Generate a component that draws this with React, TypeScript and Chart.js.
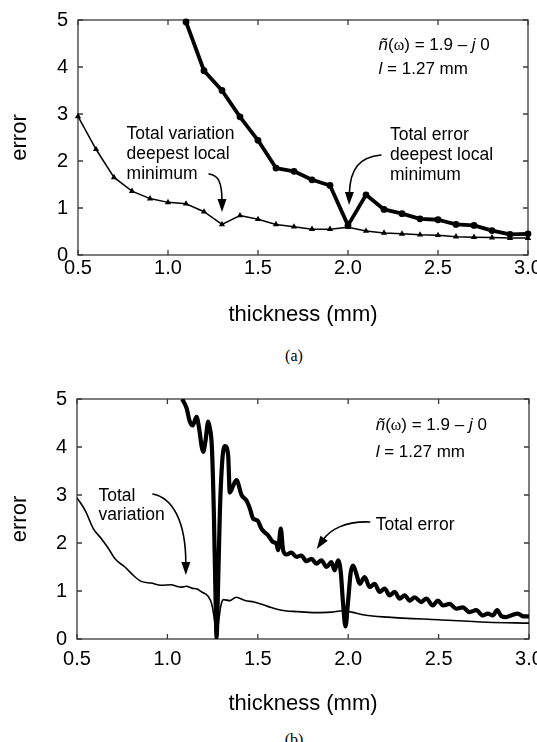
import React, { useEffect, useRef } from "react";
import { Chart, registerables } from "chart.js";

Chart.register(...registerables);

const SANS = "'Liberation Sans', Arial, Helvetica, sans-serif";
const SERIF = "'Liberation Serif', 'Times New Roman', serif";

// ---------- tick values ----------
const xTickValues = [0.5, 1.0, 1.5, 2.0, 2.5, 3.0];
const yTickValues = [0, 1, 2, 3, 4, 5];

// ---------- panel (a) ----------
const thicknessA = [0.5, 0.6, 0.7, 0.8, 0.9, 1.0, 1.1, 1.2, 1.3, 1.4, 1.5, 1.6, 1.7, 1.8, 1.9, 2.0, 2.1, 2.2, 2.3, 2.4, 2.5, 2.6, 2.7, 2.8, 2.9, 3.0];
const totalVariationA = [2.95, 2.25, 1.65, 1.36, 1.2, 1.12, 1.09, 0.92, 0.65, 0.84, 0.76, 0.65, 0.6, 0.55, 0.55, 0.59, 0.51, 0.47, 0.45, 0.43, 0.42, 0.39, 0.38, 0.37, 0.36, 0.36];
const thicknessErrA = [1.1, 1.2, 1.3, 1.4, 1.5, 1.6, 1.7, 1.8, 1.9, 2.0, 2.1, 2.2, 2.3, 2.4, 2.5, 2.6, 2.7, 2.8, 2.9, 3.0];
const totalErrorA = [4.96, 3.92, 3.5, 2.94, 2.44, 1.85, 1.78, 1.6, 1.48, 0.63, 1.28, 0.97, 0.88, 0.77, 0.75, 0.65, 0.63, 0.52, 0.44, 0.45];

// ---------- panel (b) ----------
const thicknessVarB = [0.5, 0.545, 0.59, 0.635, 0.675, 0.71, 0.765, 0.81, 0.855, 0.91, 0.965, 1.02, 1.05, 1.075, 1.105, 1.135, 1.165, 1.19, 1.225, 1.245, 1.262, 1.272, 1.283, 1.295, 1.31, 1.345, 1.38, 1.43, 1.48, 1.555, 1.63, 1.72, 1.815, 1.905, 1.97, 2.02, 2.09, 2.22, 2.5, 2.77, 3.0];
const totalVariationB = [2.94, 2.68, 2.3, 2.09, 1.88, 1.67, 1.5, 1.33, 1.2, 1.165, 1.12, 1.13, 1.1, 1.08, 1.1, 1.06, 1.04, 0.98, 0.89, 0.73, 0.35, 0.0, 0.35, 0.68, 0.82, 0.8, 0.87, 0.8, 0.77, 0.68, 0.6, 0.57, 0.55, 0.56, 0.59, 0.56, 0.5, 0.455, 0.4, 0.35, 0.33];
const thicknessErrB = [1.082, 1.106, 1.124, 1.14, 1.161, 1.175, 1.19, 1.198, 1.21, 1.226, 1.235, 1.246, 1.257, 1.266, 1.272, 1.279, 1.29, 1.303, 1.318, 1.336, 1.345, 1.364, 1.382, 1.41, 1.438, 1.456, 1.474, 1.498, 1.52, 1.539, 1.557, 1.585, 1.603, 1.612, 1.627, 1.64, 1.659, 1.686, 1.714, 1.741, 1.769, 1.797, 1.824, 1.852, 1.88, 1.907, 1.925, 1.944, 1.959, 1.971, 1.985, 1.999, 2.014, 2.027, 2.045, 2.063, 2.091, 2.119, 2.146, 2.174, 2.202, 2.229, 2.257, 2.285, 2.312, 2.34, 2.367, 2.404, 2.432, 2.468, 2.496, 2.524, 2.561, 2.598, 2.634, 2.671, 2.708, 2.745, 2.772, 2.8, 2.824, 2.846, 2.874, 2.9, 2.938, 2.97, 3.0];
const totalErrorB = [5.0, 4.81, 4.53, 4.45, 4.63, 4.4, 4.0, 3.9, 4.11, 4.53, 4.39, 4.0, 2.62, 0.9, 0.03, 0.9, 2.62, 3.69, 4.02, 3.83, 3.05, 3.2, 3.31, 3.0, 2.88, 2.72, 2.51, 2.47, 2.3, 2.22, 2.16, 2.02, 1.99, 1.85, 2.3, 1.85, 1.76, 1.8, 1.71, 1.74, 1.62, 1.67, 1.57, 1.64, 1.5, 1.6, 1.43, 1.64, 1.39, 0.77, 0.26, 0.77, 1.39, 1.53, 1.36, 1.15, 1.29, 1.08, 1.15, 0.98, 1.05, 0.91, 0.98, 0.84, 0.91, 0.8, 0.87, 0.77, 0.84, 0.7, 0.8, 0.7, 0.73, 0.63, 0.66, 0.56, 0.6, 0.49, 0.53, 0.49, 0.6, 0.48, 0.455, 0.49, 0.53, 0.47, 0.47];

const pts = (xs: number[], ys: number[]) => xs.map((x, i) => ({ x, y: ys[i] }));

type Block = { lines: string[]; x: number; y: number; gap: number };
type AnnSpec = {
  blocks: Block[];
  param: { x: number; y1: number; y2: number };
  arrows: [number, number][][];
};

// ---------- annotations (data coordinates) ----------
const annA: AnnSpec = {
  blocks: [
    { lines: ["Total variation", "deepest local", "minimum"], x: 0.77, y: 2.47, gap: 20 },
    { lines: ["Total error", "deepest local", "minimum"], x: 2.233, y: 2.45, gap: 20 },
  ],
  param: { x: 2.17, y1: 4.37, y2: 3.86 },
  arrows: [
    [[1.228, 1.723], [1.278, 1.702], [1.3, 1.553], [1.3, 0.915]],
    [[2.183, 2.128], [2.067, 2.085], [2.011, 1.851], [2.006, 1.064]],
  ],
};

const annB: AnnSpec = {
  blocks: [
    { lines: ["Total", "variation"], x: 0.619, y: 2.875, gap: 19 },
    { lines: ["Total error"], x: 2.152, y: 2.27, gap: 20 },
  ],
  param: { x: 2.152, y1: 4.354, y2: 3.79 },
  arrows: [
    [[0.92, 3.02], [1.025, 2.94], [1.102, 2.48], [1.102, 1.333]],
    [[2.119, 2.4375], [1.981, 2.458], [1.898, 2.27], [1.826, 1.875]],
  ],
};

function drawArrow(ctx: CanvasRenderingContext2D, p: number[][]) {
  const [p0, p1, p2, p3] = p;
  const dx = p3[0] - p2[0];
  const dy = p3[1] - p2[1];
  const L = Math.hypot(dx, dy) || 1;
  const ux = dx / L;
  const uy = dy / L;
  const headLen = 13;
  const headW = 9;
  const bx = p3[0] - ux * headLen;
  const by = p3[1] - uy * headLen;
  ctx.beginPath();
  ctx.moveTo(p0[0], p0[1]);
  ctx.bezierCurveTo(p1[0], p1[1], p2[0], p2[1], bx + ux * 2, by + uy * 2);
  ctx.stroke();
  ctx.beginPath();
  ctx.moveTo(p3[0], p3[1]);
  ctx.lineTo(bx - (uy * headW) / 2, by + (ux * headW) / 2);
  ctx.lineTo(bx + (uy * headW) / 2, by - (ux * headW) / 2);
  ctx.closePath();
  ctx.fill();
}

function makeAnnotationPlugin(spec: AnnSpec) {
  return {
    id: "annotations",
    afterDatasetsDraw(chart: any) {
      const ctx: CanvasRenderingContext2D = chart.ctx;
      const xs = chart.scales.x;
      const ys = chart.scales.y;
      const px = (v: number) => xs.getPixelForValue(v);
      const py = (v: number) => ys.getPixelForValue(v);
      ctx.save();
      ctx.fillStyle = "#000";
      ctx.strokeStyle = "#000";
      ctx.textAlign = "left";
      ctx.textBaseline = "alphabetic";
      ctx.font = `17.5px ${SANS}`;
      for (const b of spec.blocks) {
        b.lines.forEach((t, i) => ctx.fillText(t, px(b.x), py(b.y) + i * b.gap));
      }
      // parameter text
      const segs: { t: string; f: string }[] = [
        { t: "ñ", f: `italic 17px ${SANS}` },
        { t: "(", f: `17px ${SANS}` },
        { t: "ω", f: `16px ${SERIF}` },
        { t: ") = 1.9 – ", f: `17px ${SANS}` },
        { t: "j", f: `italic 17px ${SANS}` },
        { t: " 0", f: `17px ${SANS}` },
      ];
      let x = px(spec.param.x);
      const y1 = py(spec.param.y1);
      for (const s of segs) {
        ctx.font = s.f;
        ctx.fillText(s.t, x, y1);
        x += ctx.measureText(s.t).width;
      }
      const segs2 = [
        { t: "l", f: `italic 17px ${SANS}` },
        { t: " = 1.27 mm", f: `17px ${SANS}` },
      ];
      x = px(spec.param.x);
      const y2 = py(spec.param.y2);
      for (const s of segs2) {
        ctx.font = s.f;
        ctx.fillText(s.t, x, y2);
        x += ctx.measureText(s.t).width;
      }
      ctx.lineWidth = 1.6;
      ctx.lineCap = "round";
      for (const a of spec.arrows) {
        drawArrow(ctx, a.map(([ax, ay]) => [px(ax), py(ay)]));
      }
      ctx.restore();
    },
  };
}

const framePlugin = {
  id: "frame",
  beforeDatasetsDraw(chart: any) {
    const { ctx, chartArea } = chart;
    const { left, right, top, bottom } = chartArea;
    const xs = chart.scales.x;
    const ys = chart.scales.y;
    ctx.save();
    ctx.strokeStyle = "#3a3a3a";
    ctx.lineWidth = 1.3;
    ctx.strokeRect(left, top, right - left, bottom - top);
    const tl = 5;
    ctx.beginPath();
    for (const v of xTickValues) {
      const x = xs.getPixelForValue(v);
      ctx.moveTo(x, bottom);
      ctx.lineTo(x, bottom - tl);
      ctx.moveTo(x, top);
      ctx.lineTo(x, top + tl);
    }
    for (const v of yTickValues) {
      const y = ys.getPixelForValue(v);
      ctx.moveTo(left, y);
      ctx.lineTo(left + tl, y);
      ctx.moveTo(right, y);
      ctx.lineTo(right - tl, y);
    }
    ctx.stroke();
    ctx.restore();
  },
};

type PanelCfg = {
  datasets: any[];
  ann: AnnSpec;
  padTop: number;
  padRight: number;
  yWidth: number;
  xHeight: number;
  xTickPad: number;
  xTitlePad: number;
};

function buildConfig(p: PanelCfg): any {
  return {
    type: "scatter",
    data: { datasets: p.datasets },
    plugins: [framePlugin, makeAnnotationPlugin(p.ann)],
    options: {
      animation: false,
      responsive: false,
      maintainAspectRatio: false,
      events: [],
      layout: { padding: { left: 0, top: p.padTop, right: p.padRight, bottom: 0 } },
      plugins: { legend: { display: false }, tooltip: { enabled: false } },
      scales: {
        x: {
          type: "linear",
          min: 0.5,
          max: 3.0,
          afterBuildTicks: (s: any) => {
            s.ticks = xTickValues.map((v) => ({ value: v }));
          },
          ticks: {
            color: "#000",
            font: { family: SANS, size: 20, lineHeight: 1 },
            padding: p.xTickPad,
            maxRotation: 0,
            autoSkip: false,
            callback: (v: any) => Number(v).toFixed(1),
          },
          grid: { display: false, drawTicks: false },
          border: { display: false },
          title: {
            display: true,
            text: "thickness (mm)",
            color: "#000",
            font: { family: SANS, size: 22, lineHeight: 1.2 },
            padding: { top: 0, bottom: p.xTitlePad },
          },
          afterFit: (s: any) => {
            s.height = p.xHeight;
            s.paddingLeft = 0;
            s.paddingRight = 0;
          },
        },
        y: {
          type: "linear",
          min: 0,
          max: 5,
          afterBuildTicks: (s: any) => {
            s.ticks = yTickValues.map((v) => ({ value: v }));
          },
          ticks: {
            color: "#000",
            font: { family: SANS, size: 20, lineHeight: 1 },
            padding: 10,
            callback: (v: any) => String(v),
          },
          grid: { display: false, drawTicks: false },
          border: { display: false },
          title: {
            display: true,
            text: "error",
            color: "#000",
            font: { family: SANS, size: 22, lineHeight: 1.2 },
            padding: { top: 7, bottom: 0 },
          },
          afterFit: (s: any) => {
            s.width = p.yWidth;
            s.paddingTop = 0;
            s.paddingBottom = 0;
          },
        },
      },
    },
  };
}

export default function App() {
  const refA = useRef<HTMLCanvasElement | null>(null);
  const refB = useRef<HTMLCanvasElement | null>(null);

  useEffect(() => {
    const chartA = new Chart(
      refA.current as HTMLCanvasElement,
      buildConfig({
        datasets: [
          {
            data: pts(thicknessA, totalVariationA),
            showLine: true,
            borderColor: "#000",
            backgroundColor: "#000",
            borderWidth: 1.5,
            pointStyle: "triangle",
            pointRadius: 3.6,
            pointBorderWidth: 0,
            clip: false,
          },
          {
            data: pts(thicknessErrA, totalErrorA),
            showLine: true,
            borderColor: "#000",
            backgroundColor: "#000",
            borderWidth: 3.8,
            borderJoinStyle: "round",
            pointStyle: "circle",
            pointRadius: 3.4,
            pointBorderWidth: 0,
            clip: false,
          },
        ],
        ann: annA,
        padTop: 20,
        padRight: 9,
        yWidth: 78,
        xHeight: 85,
        xTickPad: 3,
        xTitlePad: 12,
      })
    );
    const chartB = new Chart(
      refB.current as HTMLCanvasElement,
      buildConfig({
        datasets: [
          {
            data: pts(thicknessVarB, totalVariationB),
            showLine: true,
            borderColor: "#000",
            borderWidth: 1.6,
            pointRadius: 0,
            cubicInterpolationMode: "monotone",
          },
          {
            data: pts(thicknessErrB, totalErrorB),
            showLine: true,
            borderColor: "#000",
            borderWidth: 4.2,
            borderJoinStyle: "round",
            pointRadius: 0,
            cubicInterpolationMode: "monotone",
          },
        ],
        ann: annB,
        padTop: 24,
        padRight: 8,
        yWidth: 77,
        xHeight: 81,
        xTickPad: 10,
        xTitlePad: 3,
      })
    );
    return () => {
      chartA.destroy();
      chartB.destroy();
    };
  }, []);

  const caption: React.CSSProperties = {
    position: "absolute",
    left: 264,
    width: 60,
    textAlign: "center",
    fontFamily: SERIF,
    fontSize: 16,
    lineHeight: "18px",
    color: "#000",
  };

  return (
    <div style={{ position: "absolute", left: 0, top: 0, width: 537, height: 742, background: "#fff", overflow: "hidden" }}>
      <canvas ref={refA} width={537} height={340} style={{ position: "absolute", left: 0, top: 0 }} />
      <div style={{ ...caption, top: 347 }}>(a)</div>
      <canvas ref={refB} width={537} height={345} style={{ position: "absolute", left: 0, top: 375 }} />
      <div style={{ ...caption, top: 731 }}>(b)</div>
    </div>
  );
}
